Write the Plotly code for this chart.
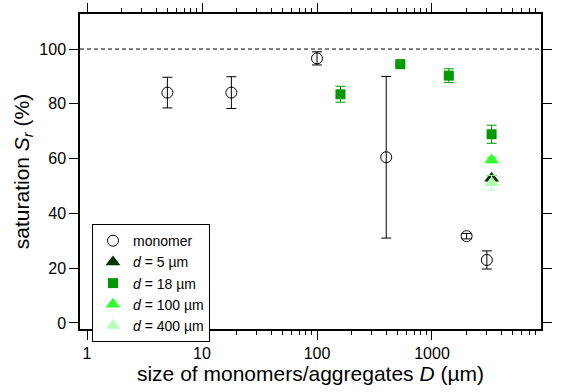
import plotly.graph_objects as go

# ── data ────────────────────────────────────────────────────────────────────
monomer_D = [5, 18, 100, 400, 2000, 3000]
monomer_S = [84.1, 84.1, 96.6, 60.5, 31.7, 23.0]
monomer_err = [5.6, 5.8, 2.4, 29.5, 1.0, 3.3]

d18_D = [160, 530, 1400, 3300]
d18_S = [83.5, 94.5, 90.3, 68.9]
d18_err = [2.9, 0.6, 2.5, 3.3]

d5_D = [3300]
d5_S = [52.8]
d5_err = [1.0]

d100_D = [3300]
d100_S = [59.5]
d100_err = [1.0]

d400_D = [3300]
d400_S = [51.2]
d400_err = [2.7]

x_tickvals = [1, 10, 100, 1000]
x_ticktext = ["1", "10", "100", "1000"]
x_minorvals = [m * 10 ** e for e in range(4) for m in range(2, 10)]
y_tickvals = [0, 20, 40, 60, 80, 100]

# ── style ───────────────────────────────────────────────────────────────────
FONT = "Liberation Sans, Arial, sans-serif"
BLACK = "#000000"
C_D5 = "#003300"
C_D18 = "#009900"
C_D100 = "#33ff33"
C_D400 = "#b8ffb8"

fig = go.Figure()


def add_series(x, y, err, name, color, symbol, size, fill=None):
    fig.add_trace(go.Scatter(
        x=x, y=y, mode="markers", name=name,
        marker=dict(symbol=symbol, size=size,
                    color=fill if fill is not None else color,
                    line=dict(color=color, width=1 if fill is not None else 0)),
        error_y=dict(type="data", array=err, color=color, thickness=1, width=5),
    ))


add_series(monomer_D, monomer_S, monomer_err, "monomer", BLACK, "circle-open", 11)
add_series(d5_D, d5_S, d5_err, "<i>d</i> = 5 µm", C_D5, "triangle-up", 13)
add_series(d18_D, d18_S, d18_err, "<i>d</i> = 18 µm", C_D18, "square", 10)
add_series(d100_D, d100_S, d100_err, "<i>d</i> = 100 µm", C_D100, "triangle-up", 13)
add_series(d400_D, d400_S, d400_err, "<i>d</i> = 400 µm", C_D400, "triangle-up", 13)

# 100 % reference line
fig.add_hline(y=100, line=dict(color=BLACK, dash="4px,3px", width=1))

fig.update_layout(
    width=580, height=392,
    paper_bgcolor="white", plot_bgcolor="white",
    font=dict(family=FONT, size=16, color=BLACK),
    margin=dict(l=80, r=39, t=14, b=63, autoexpand=False),
    showlegend=True,
    legend=dict(
        x=0.026, y=0.333, xanchor="left", yanchor="top",
        bgcolor="white", bordercolor=BLACK, borderwidth=1,
        font=dict(size=14), tracegroupgap=0,
    ),
    xaxis=dict(
        type="log", range=[-0.061, 3.948], automargin=False,
        tickvals=x_tickvals, ticktext=x_ticktext,
        ticks="outside", ticklen=9, tickwidth=1, tickcolor=BLACK,
        minor=dict(tickvals=x_minorvals, ticks="outside", ticklen=4,
                   tickwidth=1, tickcolor=BLACK, showgrid=False),
        showline=True, linecolor=BLACK, linewidth=1.5, mirror="allticks",
        showgrid=False, zeroline=False,
        title=dict(text="size of monomers/aggregates <i>D</i> (µm)", font=dict(size=21), standoff=2),
        tickfont=dict(size=16),
    ),
    yaxis=dict(
        range=[-2.2, 112.8], automargin=False,
        tickvals=y_tickvals,
        ticks="outside", ticklen=9, tickwidth=1, tickcolor=BLACK,
        showline=True, linecolor=BLACK, linewidth=1.5, mirror="allticks",
        showgrid=False, zeroline=False,
        title=dict(text="saturation <i>S<sub>r</sub></i> (%)", font=dict(size=21), standoff=4),
        tickfont=dict(size=16),
    ),
)

# drop the default page margin so the 580x392 figure fills the window exactly
fig.write_html("out.html", config={"displayModeBar": False},
               post_script="document.body.style.margin='0';")
